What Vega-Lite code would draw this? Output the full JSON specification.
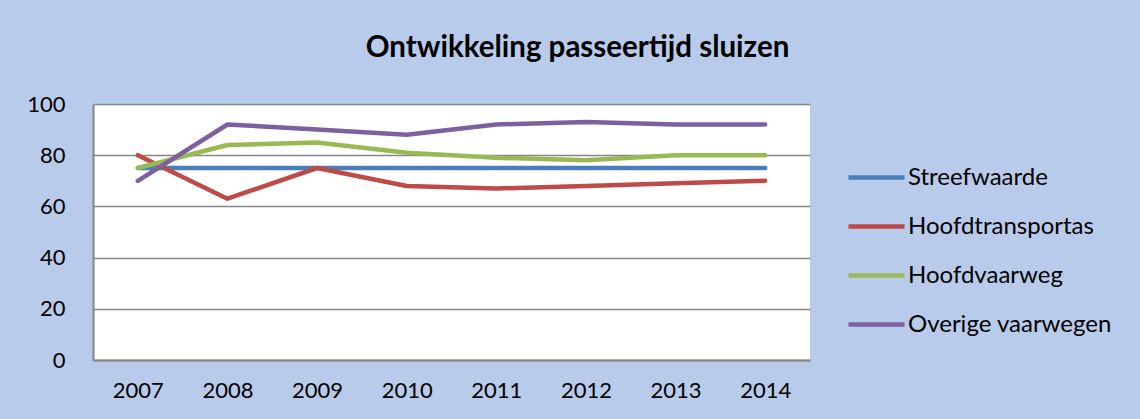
{
  "$schema": "https://vega.github.io/schema/vega-lite/v6.json",
  "width": 717,
  "height": 256,
  "autosize": {"type": "none"},
  "padding": {"left": 93, "top": 104, "right": 330, "bottom": 59},
  "background": "#B9CBEB",
  "title": {
    "text": "Ontwikkeling passeertijd sluizen",
    "font": "Lato",
    "fontSize": 29.5,
    "fontWeight": "bold",
    "color": "#000000",
    "anchor": "middle",
    "dx": 126,
    "offset": 30
  },
  "data": {
    "values": [
      {"jaar": "2007", "reeks": "Streefwaarde", "waarde": 75},
      {"jaar": "2008", "reeks": "Streefwaarde", "waarde": 75},
      {"jaar": "2009", "reeks": "Streefwaarde", "waarde": 75},
      {"jaar": "2010", "reeks": "Streefwaarde", "waarde": 75},
      {"jaar": "2011", "reeks": "Streefwaarde", "waarde": 75},
      {"jaar": "2012", "reeks": "Streefwaarde", "waarde": 75},
      {"jaar": "2013", "reeks": "Streefwaarde", "waarde": 75},
      {"jaar": "2014", "reeks": "Streefwaarde", "waarde": 75},
      {"jaar": "2007", "reeks": "Hoofdtransportas", "waarde": 80},
      {"jaar": "2008", "reeks": "Hoofdtransportas", "waarde": 63},
      {"jaar": "2009", "reeks": "Hoofdtransportas", "waarde": 75},
      {"jaar": "2010", "reeks": "Hoofdtransportas", "waarde": 68},
      {"jaar": "2011", "reeks": "Hoofdtransportas", "waarde": 67},
      {"jaar": "2012", "reeks": "Hoofdtransportas", "waarde": 68},
      {"jaar": "2013", "reeks": "Hoofdtransportas", "waarde": 69},
      {"jaar": "2014", "reeks": "Hoofdtransportas", "waarde": 70},
      {"jaar": "2007", "reeks": "Hoofdvaarweg", "waarde": 75},
      {"jaar": "2008", "reeks": "Hoofdvaarweg", "waarde": 84},
      {"jaar": "2009", "reeks": "Hoofdvaarweg", "waarde": 85},
      {"jaar": "2010", "reeks": "Hoofdvaarweg", "waarde": 81},
      {"jaar": "2011", "reeks": "Hoofdvaarweg", "waarde": 79},
      {"jaar": "2012", "reeks": "Hoofdvaarweg", "waarde": 78},
      {"jaar": "2013", "reeks": "Hoofdvaarweg", "waarde": 80},
      {"jaar": "2014", "reeks": "Hoofdvaarweg", "waarde": 80},
      {"jaar": "2007", "reeks": "Overige vaarwegen", "waarde": 70},
      {"jaar": "2008", "reeks": "Overige vaarwegen", "waarde": 92},
      {"jaar": "2009", "reeks": "Overige vaarwegen", "waarde": 90},
      {"jaar": "2010", "reeks": "Overige vaarwegen", "waarde": 88},
      {"jaar": "2011", "reeks": "Overige vaarwegen", "waarde": 92},
      {"jaar": "2012", "reeks": "Overige vaarwegen", "waarde": 93},
      {"jaar": "2013", "reeks": "Overige vaarwegen", "waarde": 92},
      {"jaar": "2014", "reeks": "Overige vaarwegen", "waarde": 92}
    ]
  },
  "mark": {"type": "line", "strokeWidth": 4.5, "strokeCap": "round", "strokeJoin": "round"},
  "encoding": {
    "x": {
      "field": "jaar",
      "type": "ordinal",
      "scale": {"type": "point", "padding": 0.5},
      "axis": {
        "title": null,
        "labelAngle": 0,
        "labelFont": "Lato",
        "labelFontSize": 22,
        "labelColor": "#000000",
        "labelPadding": 20,
        "ticks": false,
        "domainColor": "#868686",
        "domainWidth": 2,
        "grid": false
      }
    },
    "y": {
      "field": "waarde",
      "type": "quantitative",
      "scale": {"domain": [0, 100], "nice": false},
      "axis": {
        "title": null,
        "values": [0, 20, 40, 60, 80, 100],
        "labelFont": "Lato",
        "labelFontSize": 22,
        "labelColor": "#000000",
        "labelPadding": 28,
        "ticks": false,
        "domainColor": "#868686",
        "domainWidth": 2,
        "grid": true,
        "gridColor": "#868686",
        "gridWidth": 1.5,
        "gridOpacity": 1
      }
    },
    "color": {
      "field": "reeks",
      "type": "nominal",
      "sort": ["Streefwaarde", "Hoofdtransportas", "Hoofdvaarweg", "Overige vaarwegen"],
      "scale": {
        "domain": ["Streefwaarde", "Hoofdtransportas", "Hoofdvaarweg", "Overige vaarwegen"],
        "range": ["#4A7EBB", "#BE4B48", "#98B954", "#7D60A0"]
      },
      "legend": {
        "title": null,
        "orient": "none",
        "legendX": 753,
        "legendY": 43,
        "symbolType": "stroke",
        "symbolSize": 3136,
        "symbolStrokeWidth": 4.5,
        "labelFont": "Lato",
        "labelFontSize": 24,
        "labelColor": "#000000",
        "labelOffset": 1,
        "rowPadding": 6,
        "labelLimit": 400
      }
    }
  },
  "config": {
    "view": {"fill": "#FFFFFF", "stroke": null}
  }
}
